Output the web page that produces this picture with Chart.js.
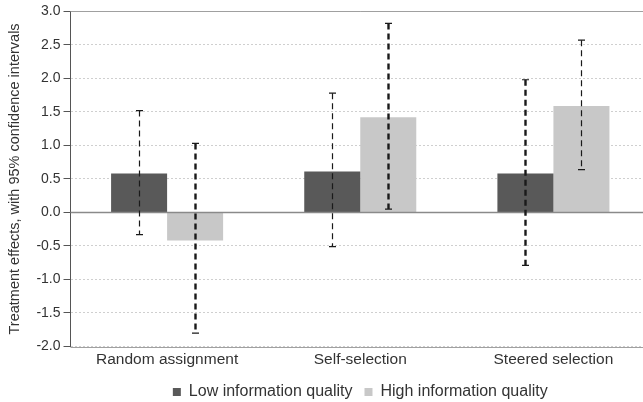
<!DOCTYPE html>
<html>
<head>
<meta charset="utf-8">
<script src="https://cdn.jsdelivr.net/npm/chart.js@4.4.0/dist/chart.umd.min.js"></script>
<style>
  html, body { margin: 0; padding: 0; background: #fff; overflow: hidden; }
  #wrap { width: 650px; height: 402px; }
</style>
</head>
<body>
<div id="wrap"><canvas id="grafico"></canvas></div>
<script>
// Dados
const categorias = ['Random assignment', 'Self-selection', 'Steered selection'];
const efeitoBaixa = [0.58, 0.61, 0.58];
const efeitoAlta = [-0.42, 1.42, 1.59];
const icBaixaInf = [-0.33, -0.51, -0.79];
const icBaixaSup = [1.52, 1.78, 1.98];
const icAltaInf = [-1.80, 0.05, 0.64];
const icAltaSup = [1.03, 2.82, 2.57];
const ticksY = [-2, -1.5, -1, -0.5, 0, 0.5, 1, 1.5, 2, 2.5, 3];

// espessura das barras de erro (tracejado grosso ou fino)
const estiloErro = [
    [false, true],   // Random: baixa fina, alta grossa
    [false, true],   // Self
    [true, false]    // Steered
];

const fonte = 'Liberation Sans, Arial, sans-serif';

// Linhas sólidas em 0, topo e base
const linhasPlugin = {
    id: 'linhas',
    beforeDatasetsDraw(chart) {
        const ctx = chart.ctx;
        const y = chart.scales.y;
        const area = chart.chartArea;
        ctx.save();
        ctx.strokeStyle = '#a0a0a0';
        ctx.lineWidth = 1;
        [y.max, y.min].forEach(v => {
            const py = Math.round(y.getPixelForValue(v)) + 0.5;
            ctx.beginPath();
            ctx.moveTo(area.left, py);
            ctx.lineTo(area.right, py);
            ctx.stroke();
        });
        ctx.restore();
    },
    afterDatasetsDraw(chart) {
        const ctx = chart.ctx;
        const y = chart.scales.y;
        const area = chart.chartArea;
        ctx.save();
        ctx.strokeStyle = '#8a8a8a';
        ctx.lineWidth = 1.5;
        const py = y.getPixelForValue(0);
        ctx.beginPath();
        ctx.moveTo(area.left, py);
        ctx.lineTo(area.right, py);
        ctx.stroke();
        ctx.restore();
    }
};

// Barras de erro tracejadas
const errosPlugin = {
    id: 'erros',
    afterDatasetsDraw(chart) {
        const ctx = chart.ctx;
        const y = chart.scales.y;
        const limites = [[icBaixaInf, icBaixaSup], [icAltaInf, icAltaSup]];
        ctx.save();
        ctx.strokeStyle = '#1a1a1a';
        for (let d = 0; d < 2; d++) {
            const meta = chart.getDatasetMeta(d);
            meta.data.forEach((el, i) => {
                const grosso = estiloErro[i][d];
                const x = Math.round(el.x) + 0.5;
                const yTop = y.getPixelForValue(limites[d][1][i]);
                const yBot = y.getPixelForValue(limites[d][0][i]);
                ctx.lineWidth = grosso ? 2.4 : 1.2;
                ctx.setLineDash([6, 4]);
                ctx.beginPath();
                ctx.moveTo(x, yTop);
                ctx.lineTo(x, yBot);
                ctx.stroke();
                ctx.setLineDash([]);
                ctx.lineWidth = 1.2;
                ctx.beginPath();
                ctx.moveTo(x - 3.5, yTop);
                ctx.lineTo(x + 3.5, yTop);
                ctx.moveTo(x - 3.5, yBot);
                ctx.lineTo(x + 3.5, yBot);
                ctx.stroke();
            });
        }
        ctx.restore();
    }
};

const config = {
    type: 'bar',
    data: {
        labels: categorias,
        datasets: [
            {
                label: 'Low information quality',
                data: efeitoBaixa,
                backgroundColor: '#595959'
            },
            {
                label: 'High information quality',
                data: efeitoAlta,
                backgroundColor: '#c8c8c8'
            }
        ]
    },
    options: {
        responsive: true,
        maintainAspectRatio: false,
        animation: false,
        layout: { padding: { top: 5, right: 0, left: 6, bottom: -8 } },
        categoryPercentage: 0.58,
        barPercentage: 1.0,
        plugins: {
            legend: {
                position: 'bottom',
                fullSize: false,
                labels: {
                    font: { family: fonte, size: 16 },
                    color: '#333',
                    usePointStyle: true,
                    pointStyle: 'rect',
                    boxWidth: 8,
                    boxHeight: 8,
                    padding: 12
                }
            },
            tooltip: { enabled: false }
        },
        scales: {
            x: {
                grid: { display: false, drawTicks: false },
                border: { display: false },
                ticks: {
                    font: { family: fonte, size: 15.5, lineHeight: 1 },
                    color: '#333',
                    padding: 5
                }
            },
            y: {
                min: -2,
                max: 3,
                afterBuildTicks(scale) {
                    scale.ticks = ticksY.map(v => ({ value: v }));
                },
                ticks: {
                    font: { family: fonte, size: 14 },
                    color: '#333',
                    padding: 3,
                    callback: v => v.toFixed(1)
                },
                grid: {
                    color: '#cfcfcf',
                    lineWidth: 1,
                    tickLength: 7,
                    tickColor: '#555'
                },
                border: { display: true, color: '#555', width: 1, dash: [2, 2] },
                title: {
                    display: true,
                    text: 'Treatment effects, with 95% confidence intervals',
                    font: { family: fonte, size: 14.5 },
                    color: '#333',
                    padding: { top: 0, bottom: 10 }
                }
            }
        }
    },
    plugins: [linhasPlugin, errosPlugin]
};

new Chart(document.getElementById('grafico'), config);
</script>
</body>
</html>
